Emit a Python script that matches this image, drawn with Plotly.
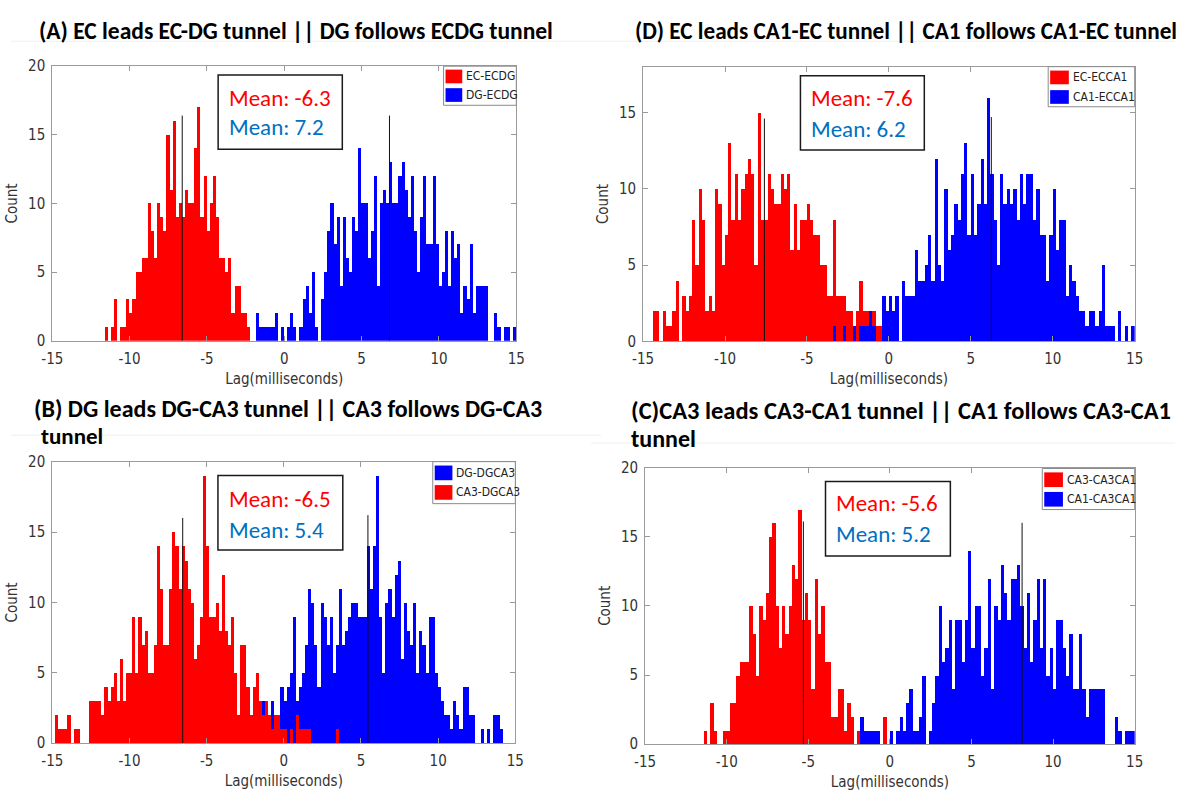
import plotly.graph_objects as go

W, H = 1184, 804
BIN_W = 0.2

RED = "#ff0000"
BLUE = "#0000ff"
MEAN_RED = "#ff0000"
MEAN_BLUE = "#0070c0"
AXIS_COLOR = "#9a9a9a"
LABEL_COLOR = "#333333"
NARROW = "Liberation Sans Narrow, DejaVu Sans Condensed, Arial Narrow, sans-serif"
TITLE_FONT = "Carlito, Lato, Open Sans, sans-serif"

x_tick_vals = [-15, -10, -5, 0, 5, 10, 15]
x_tick_text = ["-15", "-10", "-5", "0", "5", "10", "15"]
y_tick_vals = [0, 5, 10, 15, 20]
y_tick_text = ["0", "5", "10", "15", "20"]

# ---------------- Panel A ----------------
a_title = "(A) EC leads EC-DG tunnel || DG follows ECDG tunnel"
a_names = ["EC-ECDG", "DG-ECDG"]
a_red_start = -11.6
a_red_counts = [1, 0, 1, 3, 0, 1, 1, 3, 2, 3,
                5, 5, 6, 6, 10, 8, 6, 10, 9, 8,
                15, 11, 16, 9, 10, 9, 11, 10, 10, 14,
                17, 9, 12, 8, 10, 12, 9, 6, 6, 5,
                6, 2, 4, 4, 2, 2, 1]
a_blue_start = -1.8
a_blue_counts = [2, 1, 1, 1, 1, 1, 2, 0, 1, 0,
                 1, 2, 1, 0, 1, 3, 4, 2, 5, 1,
                 0, 3, 5, 8, 10, 7, 9, 4, 9, 6,
                 5, 9, 8, 14, 10, 10, 6, 8, 12, 4,
                 10, 11, 10, 13, 10, 10, 12, 13, 11, 9,
                 12, 8, 5, 9, 12, 7, 7, 12, 7, 4,
                 5, 8, 4, 8, 6, 7, 2, 4, 3, 7,
                 2, 4, 4, 4, 4, 0, 0, 2, 1, 0,
                 1, 1, 0, 1]
a_mean_line_x = [-6.6, 6.8]
a_mean_line_top = [16.4, 16.4]
a_mean_text = ["Mean: -6.3", "Mean: 7.2"]

# ---------------- Panel D ----------------
d_title = "(D) EC leads CA1-EC tunnel || CA1 follows CA1-EC tunnel"
d_names = ["EC-ECCA1", "CA1-ECCA1"]
d_red_start = -14.4
d_red_counts = [2, 2, 0, 2, 1, 1, 2, 4, 0, 3,
                2, 3, 8, 5, 10, 8, 2, 3, 2, 10,
                9, 5, 7, 13, 8, 11, 8, 10, 11, 12,
                11, 5, 15, 8, 8, 11, 10, 9, 9, 11,
                10, 11, 6, 9, 6, 8, 8, 9, 8, 7,
                7, 5, 5, 3, 3, 8, 3, 3, 3, 2,
                2, 1, 2, 4, 2, 2, 1, 2, 1, 1]
d_blue_start = -3.4
d_blue_counts = [1, 0, 0, 1, 0, 0, 1, 0, 1, 1,
                 1, 2, 1, 0, 0, 3, 2, 3, 2, 3,
                 0, 4, 3, 3, 3, 6, 4, 4, 5, 7,
                 4, 12, 5, 4, 10, 6, 7, 9, 8, 11,
                 13, 7, 11, 7, 9, 12, 9, 16, 11, 8,
                 5, 11, 9, 10, 9, 10, 8, 11, 9, 11,
                 11, 8, 10, 7, 7, 4, 7, 10, 6, 8,
                 8, 3, 5, 4, 3, 2, 2, 1, 2, 2,
                 1, 2, 5, 1, 1, 1, 0, 2, 0, 1,
                 0, 1]
d_mean_line_x = [-7.6, 6.25]
d_mean_line_top = [14.6, 14.7]
d_mean_text = ["Mean: -7.6", "Mean: 6.2"]

# ---------------- Panel B ----------------
b_title = ["(B) DG leads DG-CA3 tunnel || CA3 follows DG-CA3", "tunnel"]
b_names = ["DG-DGCA3", "CA3-DGCA3"]
b_blue_start = -1.4
b_blue_counts = [3, 3, 2, 3, 2, 1, 4, 3, 4, 5,
                 9, 3, 4, 5, 7, 11, 10, 7, 4, 10,
                 9, 7, 9, 5, 7, 11, 7, 8, 9, 10,
                 10, 9, 9, 9, 14, 11, 14, 19, 9, 5,
                 10, 11, 9, 12, 13, 6, 10, 8, 7, 10,
                 5, 8, 7, 5, 9, 9, 5, 4, 3, 2,
                 2, 1, 3, 2, 1, 4, 4, 2, 2, 0,
                 0, 1, 0, 1, 0, 2, 2, 1]
b_red_start = -14.8
b_red_counts = [2, 1, 1, 1, 2, 0, 1, 1, 0, 0,
                0, 3, 3, 3, 3, 2, 4, 3, 4, 5,
                3, 6, 3, 5, 5, 9, 5, 9, 7, 8,
                5, 5, 7, 14, 11, 7, 7, 11, 15, 14,
                11, 14, 13, 11, 10, 6, 7, 9, 19, 14,
                9, 9, 10, 8, 12, 8, 7, 9, 5, 2,
                7, 7, 4, 2, 4, 5, 3, 2, 3, 2,
                1, 2, 2, 1, 1, 0, 1, 0, 2, 1,
                1, 1, 1, 0, 0, 0, 0, 0, 0, 0,
                0, 1]
b_mean_line_x = [-6.55, 5.45]
b_mean_line_top = [16.0, 16.2]
b_mean_text = ["Mean: -6.5", "Mean: 5.4"]

# ---------------- Panel C ----------------
c_title = ["(C)CA3 leads CA3-CA1 tunnel || CA1 follows CA3-CA1", "tunnel"]
c_names = ["CA3-CA3CA1", "CA1-CA3CA1"]
c_red_start = -11.4
c_red_counts = [1, 0, 3, 1, 0, 0, 1, 1, 3, 3,
                5, 6, 6, 6, 10, 8, 5, 10, 9, 11,
                15, 16, 10, 7, 10, 8, 10, 13, 12, 17,
                9, 11, 9, 4, 12, 8, 10, 6, 6, 2,
                2, 4, 4, 1, 3, 2, 0, 1, 1, 0,
                0, 1, 0, 0, 0, 2]
c_blue_start = -1.8
c_blue_counts = [2, 1, 1, 1, 1, 1, 0, 0, 0, 1,
                 0, 1, 2, 1, 3, 4, 1, 1, 2, 5,
                 0, 1, 3, 5, 10, 6, 7, 9, 4, 9,
                 9, 6, 9, 14, 7, 10, 10, 5, 7, 12,
                 4, 10, 9, 13, 11, 9, 12, 12, 13, 10,
                 7, 11, 6, 9, 12, 7, 12, 5, 7, 4,
                 9, 9, 7, 5, 8, 4, 4, 8, 4, 2,
                 4, 4, 4, 4, 4, 0, 0, 0, 2, 1,
                 0, 1, 1, 1]
c_mean_line_x = [-5.3, 8.1]
c_mean_line_top = [16.1, 16.0]
c_mean_text = ["Mean: -5.6", "Mean: 5.2"]

# ---------------- layout specs (pixels) ----------------
panels = [
    dict(axes=(42, 58.5, 514, 339.3), ymax=20,
         series=[(a_names[0], RED, a_red_start, a_red_counts),
                 (a_names[1], BLUE, a_blue_start, a_blue_counts)],
         lines=(a_mean_line_x, a_mean_line_top), texts=a_mean_text,
         mbox=(210.7, 67.5, 337, 143.5), mtext=(220, 91, 121),
         legbox=(440, 58.5, 514, 98.5), swx=(442, 459),
         swy=((62, 76), (81, 95)), legtx=461),
    dict(axes=(643, 59, 1143, 340), ymax=18,
         series=[(d_names[0], RED, d_red_start, d_red_counts),
                 (d_names[1], BLUE, d_blue_start, d_blue_counts)],
         lines=(d_mean_line_x, d_mean_line_top), texts=d_mean_text,
         mbox=(803, 68.3, 929, 144.3), mtext=(812, 91, 123),
         legbox=(1055, 59, 1143, 100), swx=(1057, 1076),
         swy=((63, 77), (83, 97)), legtx=1078),
    dict(axes=(42, 463, 513, 751), ymax=20,
         series=[(b_names[0], BLUE, b_blue_start, b_blue_counts),
                 (b_names[1], RED, b_red_start, b_red_counts)],
         lines=(b_mean_line_x, b_mean_line_top), texts=b_mean_text,
         mbox=(210.5, 477.3, 337.5, 553.3), mtext=(220, 501, 533),
         legbox=(429, 463, 513, 506), swx=(431, 449),
         swy=((467, 482), (487, 502)), legtx=451),
    dict(axes=(645, 469, 1143, 752), ymax=20,
         series=[(c_names[0], RED, c_red_start, c_red_counts),
                 (c_names[1], BLUE, c_blue_start, c_blue_counts)],
         lines=(c_mean_line_x, c_mean_line_top), texts=c_mean_text,
         mbox=(828.5, 483.3, 955.5, 559.5), mtext=(837, 505, 537),
         legbox=(1049, 470, 1143, 512), swx=(1051, 1070),
         swy=((474, 489), (494, 509)), legtx=1072),
]


def px(x):
    return x / W


def py(y):
    return 1 - y / H


fig = go.Figure()
layout = dict(
    width=W, height=H, margin=dict(l=0, r=0, t=0, b=0),
    paper_bgcolor="white", plot_bgcolor="white",
    barmode="overlay", bargap=0, hovermode=False, showlegend=False,
    shapes=[], annotations=[],
)

tick_font = dict(family=NARROW, size=15, color=LABEL_COLOR)
title_font_ax = dict(family=NARROW, size=15, color=LABEL_COLOR)
legend_font = dict(family=NARROW, size=12, color="#222222")

for i, p in enumerate(panels):
    n = "" if i == 0 else str(i + 1)
    xa, ya = "x" + n, "y" + n
    for name, color, start, counts in p["series"]:
        centers = [start + BIN_W * (k + 0.5) for k in range(len(counts))]
        fig.add_trace(go.Bar(
            x=centers, y=counts, width=BIN_W, name=name,
            marker=dict(color=color, line=dict(width=0)),
            xaxis=xa, yaxis=ya,
        ))
    for mx, mt in zip(*p["lines"]):
        fig.add_trace(go.Scatter(
            x=[mx, mx], y=[0, mt], mode="lines",
            line=dict(color="#111111", width=1),
            showlegend=False, xaxis=xa, yaxis=ya,
        ))
    x0, y0, x1, y1 = p["axes"]
    yt = [v for v in y_tick_vals if v <= p["ymax"]]
    ytt = [t for v, t in zip(y_tick_vals, y_tick_text) if v <= p["ymax"]]
    layout["xaxis" + n] = dict(
        domain=[px(x0), px(x1)], anchor=ya, range=[-15, 15],
        tickvals=x_tick_vals, ticktext=x_tick_text,
        ticks="inside", ticklen=5, tickcolor=AXIS_COLOR,
        showline=True, mirror="ticks", linecolor=AXIS_COLOR, linewidth=1,
        showgrid=False, zeroline=False, tickfont=tick_font,
        ticklabelstandoff=4,
        title=dict(text="Lag(milliseconds)", font=title_font_ax, standoff=6),
    )
    layout["yaxis" + n] = dict(
        domain=[py(y1), py(y0)], anchor=xa, range=[0, p["ymax"]],
        tickvals=yt, ticktext=ytt,
        ticks="inside", ticklen=5, tickcolor=AXIS_COLOR,
        showline=True, mirror="ticks", linecolor=AXIS_COLOR, linewidth=1,
        showgrid=False, zeroline=False, tickfont=tick_font,
        ticklabelstandoff=3,
        title=dict(text="Count", font=title_font_ax, standoff=6),
    )

    # legend box (MATLAB style) with series swatches and names
    lx0, ly0, lx1, ly1 = p["legbox"]
    layout["shapes"].append(dict(
        type="rect", xref="paper", yref="paper",
        x0=px(lx0), x1=px(lx1), y0=py(ly1), y1=py(ly0),
        line=dict(color="#8a8a8a", width=1), fillcolor="white", layer="above",
    ))
    for (name, color, _s, _c), (sy0, sy1) in zip(p["series"], p["swy"]):
        layout["shapes"].append(dict(
            type="rect", xref="paper", yref="paper",
            x0=px(p["swx"][0]), x1=px(p["swx"][1]), y0=py(sy1), y1=py(sy0),
            line=dict(width=0), fillcolor=color, layer="above",
        ))
        layout["annotations"].append(dict(
            text=name, xref="paper", yref="paper",
            x=px(p["legtx"]), y=py((sy0 + sy1) / 2),
            xanchor="left", yanchor="middle", showarrow=False,
            font=legend_font,
        ))

    # mean box
    bx0, by0, bx1, by1 = p["mbox"]
    layout["shapes"].append(dict(
        type="rect", xref="paper", yref="paper",
        x0=px(bx0), x1=px(bx1), y0=py(by1), y1=py(by0),
        line=dict(color="#1a1a1a", width=1.5), fillcolor="white", layer="above",
    ))
    tx, ty1, ty2 = p["mtext"]
    for txt, col, ty in ((p["texts"][0], MEAN_RED, ty1), (p["texts"][1], MEAN_BLUE, ty2)):
        layout["annotations"].append(dict(
            text=txt, xref="paper", yref="paper", x=px(tx), y=py(ty),
            xanchor="left", yanchor="middle", showarrow=False,
            font=dict(family=TITLE_FONT, size=23, color=col),
        ))

# panel titles: (text, x px, y px, font size)
titles = [
    (a_title, 26, 22, 23.5),
    (d_title, 633, 22, 23.2),
    (b_title[0], 21, 409, 24),
    (b_title[1], 28, 437, 23),
    (c_title[0], 629, 411, 24.5),
    (c_title[1], 629, 439, 24),
]
for txt, tx, ty, fs in titles:
    layout["annotations"].append(dict(
        text="<b>" + txt + "</b>", xref="paper", yref="paper",
        x=px(tx), y=py(ty), xanchor="left", yanchor="middle",
        showarrow=False, font=dict(family=TITLE_FONT, size=fs, color="#000000"),
    ))

# faint separator lines present in the source image
for (lx0, lx1, ly) in [(0, 1184, 33), (0, 600, 436), (590, 1184, 444)]:
    layout["shapes"].append(dict(
        type="line", xref="paper", yref="paper",
        x0=px(lx0), x1=px(lx1), y0=py(ly), y1=py(ly),
        line=dict(color="#efefef", width=1), layer="below",
    ))

fig.update_layout(**layout)
fig.write_html("out.html")
